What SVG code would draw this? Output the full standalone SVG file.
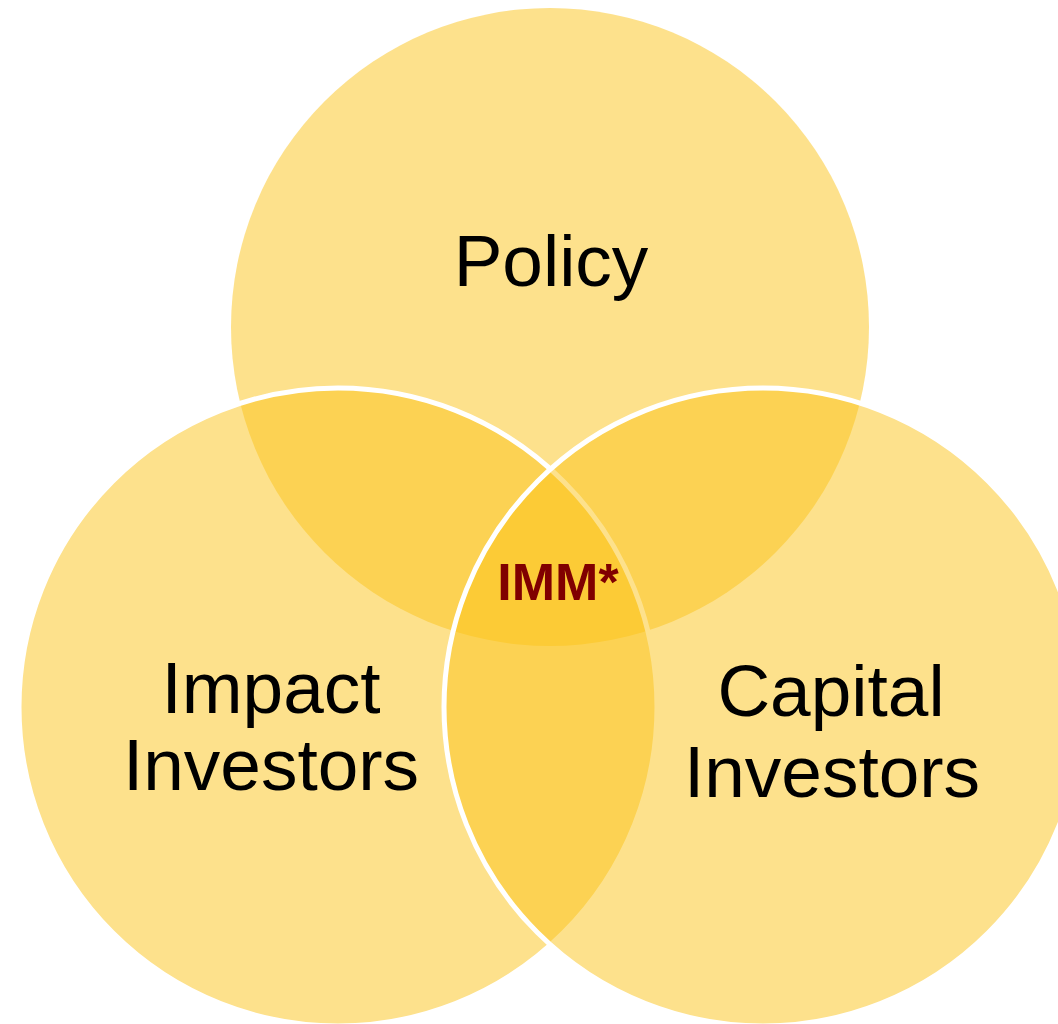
<svg xmlns="http://www.w3.org/2000/svg" width="1058" height="1024" viewBox="0 0 1058 1024">
  <style>
    .set { fill: #FBC31A; fill-opacity: 0.5; }
    .edge { stroke: #FFFFFF; stroke-width: 5; }
    .label { font-family: "Liberation Sans", Arial, sans-serif; font-size: 73px; fill: #000000; text-anchor: middle; }
    .core { font-family: "Liberation Sans", Arial, sans-serif; font-size: 52px; font-weight: bold; fill: #800000; text-anchor: middle; }
  </style>
  <rect width="1058" height="1024" fill="#FFFFFF"/>

  <g id="policy">
    <circle class="set" cx="550" cy="327" r="319"/>
    <text class="label" x="551" y="286" font-size="72">Policy</text>
  </g>

  <g id="impact-investors">
    <circle class="set edge" cx="338" cy="707" r="319"/>
    <text class="label" x="271" y="713">Impact</text>
    <text class="label" x="271" y="790">Investors</text>
  </g>

  <g id="capital-investors">
    <circle class="set edge" cx="763" cy="707" r="319"/>
    <text class="label" x="831" y="716">Capital</text>
    <text class="label" x="832" y="797">Investors</text>
  </g>

  <g id="imm">
    <text class="core" x="558" y="600">IMM*</text>
  </g>

  <g id="connectors"></g>
</svg>
